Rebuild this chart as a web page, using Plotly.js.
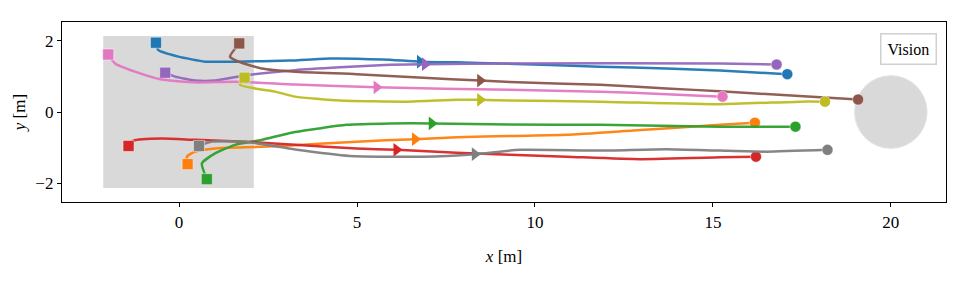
<!DOCTYPE html>
<html>
<head>
<meta charset="utf-8">
<script src="https://cdn.plot.ly/plotly-3.0.1.min.js"></script>
<style>html,body{margin:0;padding:0;background:#fff;}#chart{width:969px;height:283px;}</style>
</head>
<body>
<div id="chart"></div>
<script>
// Trajectory data
const blueX   = [-0.65, -0.58, -0.02, 0.73, 1.57, 3.12, 4.24, 5.73, 6.77, 7.8, 9.02, 11.83, 13.7, 15.2, 17.09];
const blueY   = [1.94, 1.73, 1.55, 1.41, 1.41, 1.44, 1.50, 1.47, 1.41, 1.39, 1.36, 1.27, 1.22, 1.16, 1.06];
const orangeX = [0.24, 0.22, 0.45, 1.01, 1.85, 3.12, 4.99, 6.63, 7.8, 9.3, 10.89, 12.76, 15.2, 16.18];
const orangeY = [-1.46, -1.25, -1.11, -1.02, -0.99, -0.94, -0.83, -0.76, -0.71, -0.67, -0.64, -0.52, -0.36, -0.30];
const greenX  = [0.78, 0.64, 1.01, 1.57, 2.32, 3.26, 4.71, 5.93, 7.1, 9.3, 11.83, 15.2, 17.32];
const greenY  = [-1.88, -1.44, -1.16, -0.92, -0.78, -0.56, -0.36, -0.32, -0.32, -0.35, -0.36, -0.41, -0.41];
const redX    = [-1.42, -1.28, -0.49, 0.45, 1.85, 3.26, 4.99, 6.11, 7.8, 9.3, 10.89, 12.96, 15.2, 16.21];
const redY    = [-0.95, -0.80, -0.74, -0.78, -0.83, -0.92, -1.02, -1.06, -1.14, -1.20, -1.25, -1.32, -1.27, -1.25];
const purpleX = [-0.39, -0.11, 0.45, 1.01, 1.76, 3.26, 4.52, 5.93, 6.91, 9.3, 15.2, 16.79];
const purpleY = [1.10, 0.99, 0.88, 0.88, 1.01, 1.17, 1.25, 1.32, 1.34, 1.36, 1.36, 1.33];
const brownX  = [1.69, 1.43, 1.67, 2.32, 3.26, 4.99, 6.86, 8.46, 9.3, 11.83, 13.7, 15.2, 19.08];
const brownY  = [1.92, 1.55, 1.41, 1.22, 1.13, 1.06, 0.96, 0.88, 0.84, 0.76, 0.66, 0.58, 0.35];
const pinkX   = [-1.99, -1.80, -1.24, -0.49, 0.45, 1.57, 3.26, 5.55, 9.3, 11.83, 13.7, 15.27];
const pinkY   = [1.61, 1.36, 1.13, 0.91, 0.83, 0.85, 0.77, 0.69, 0.62, 0.57, 0.50, 0.43];
const grayX   = [0.56, 0.92, 1.85, 3.26, 4.80, 6.86, 8.31, 9.58, 11.83, 13.7, 15.2, 16.51, 18.22];
const grayY   = [-0.95, -0.83, -0.83, -1.05, -1.23, -1.25, -1.18, -1.06, -1.08, -1.04, -1.08, -1.11, -1.06];
const oliveX  = [1.84, 1.71, 2.13, 2.70, 3.26, 4.52, 6.4, 7.8, 8.46, 9.3, 11.83, 15.2, 17.44, 18.15];
const oliveY  = [0.96, 0.76, 0.66, 0.57, 0.43, 0.32, 0.29, 0.34, 0.34, 0.32, 0.29, 0.22, 0.29, 0.29];

// Arrow (direction marker) positions, in trajectory order
const arrowX = [6.77, 6.63, 7.1, 6.11, 6.91, 8.46, 5.55, 8.31, 8.46];
const arrowY = [1.41, -0.76, -0.32, -1.06, 1.34, 0.88, 0.69, -1.18, 0.34];

const seriesX = [blueX, orangeX, greenX, redX, purpleX, brownX, pinkX, grayX, oliveX];
const seriesY = [blueY, orangeY, greenY, redY, purpleY, brownY, pinkY, grayY, oliveY];
const colors = ['#1f77b4','#ff7f0e','#2ca02c','#d62728','#9467bd','#8c564b','#e377c2','#7f7f7f','#bcbd22'];

// Scene regions
const boxX = [-2.13, 2.1];
const boxY = [-2.13, 2.13];
const goalCenter = [20, 0];
const goalRadius = 1.02;
const legendText = 'Vision';

const traces = [];
seriesX.forEach((xs, i) => {
  const ys = seriesY[i];
  traces.push({x: xs, y: ys, mode: 'lines', type: 'scatter',
    line: {color: colors[i], width: 2.5, shape: 'spline', smoothing: 0.5}, opacity: 0.95,
    hoverinfo: 'skip', showlegend: false});
  traces.push({x: [xs[0]], y: [ys[0]], mode: 'markers', type: 'scatter',
    marker: {symbol: 'square', size: 11, color: colors[i], line: {color: 'rgba(255,255,255,0.45)', width: 1}},
    showlegend: false});
  traces.push({x: [xs[xs.length-1]], y: [ys[ys.length-1]], mode: 'markers', type: 'scatter',
    marker: {symbol: 'circle', size: 11, color: colors[i], line: {color: 'rgba(255,255,255,0.45)', width: 1}},
    showlegend: false});
  traces.push({x: [arrowX[i]], y: [arrowY[i]], mode: 'markers', type: 'scatter',
    marker: {symbol: 'triangle-right', size: 12, color: colors[i], line: {color: colors[i], width: 0}},
    showlegend: false});
});

const font = {family: '"Liberation Serif", "DejaVu Serif", serif', size: 17, color: '#000'};

const layout = {
  width: 969, height: 283,
  margin: {l: 62, r: 23, t: 22, b: 81},
  paper_bgcolor: '#fff', plot_bgcolor: '#fff',
  font: font,
  showlegend: false,
  xaxis: {range: [-3.29, 21.55], tickvals: [0, 5, 10, 15, 20], ticktext: ['0','5','10','15','20'],
    ticks: 'outside', ticklen: 4, tickwidth: 1, tickcolor: '#000',
    showline: true, linecolor: '#000', linewidth: 1.2, mirror: true,
    showgrid: false, zeroline: false,
    title: {text: '<i>x</i> [m]', font: font, standoff: 19}},
  yaxis: {range: [-2.52, 2.52], tickvals: [-2, 0, 2], ticktext: ['\u22122','0','2'],
    ticks: 'outside', ticklen: 4, tickwidth: 1, tickcolor: '#000',
    showline: true, linecolor: '#000', linewidth: 1.2, mirror: true,
    showgrid: false, zeroline: false,
    title: {text: '<i>y</i> [m]', font: font, standoff: 5}},
  shapes: [
    {type: 'rect', layer: 'below', xref: 'x', yref: 'y', x0: boxX[0], x1: boxX[1], y0: boxY[0], y1: boxY[1],
     fillcolor: '#d9d9d9', line: {width: 0}},
    {type: 'circle', layer: 'below', xref: 'x', yref: 'y',
     x0: goalCenter[0]-goalRadius, x1: goalCenter[0]+goalRadius, y0: goalCenter[1]-goalRadius, y1: goalCenter[1]+goalRadius,
     fillcolor: '#d9d9d9', line: {color: '#e6e6e6', width: 1}}
  ],
  annotations: [
    {xref: 'paper', yref: 'paper', x: 0.99, y: 0.94, xanchor: 'right', yanchor: 'top',
     text: legendText, showarrow: false, font: {family: font.family, size: 16, color: '#000'},
     bordercolor: '#d0d0d0', borderwidth: 1.5, borderpad: 6, bgcolor: '#fff'}
  ]
};

Plotly.newPlot('chart', traces, layout, {staticPlot: true, displayModeBar: false});
</script>
</body>
</html>
